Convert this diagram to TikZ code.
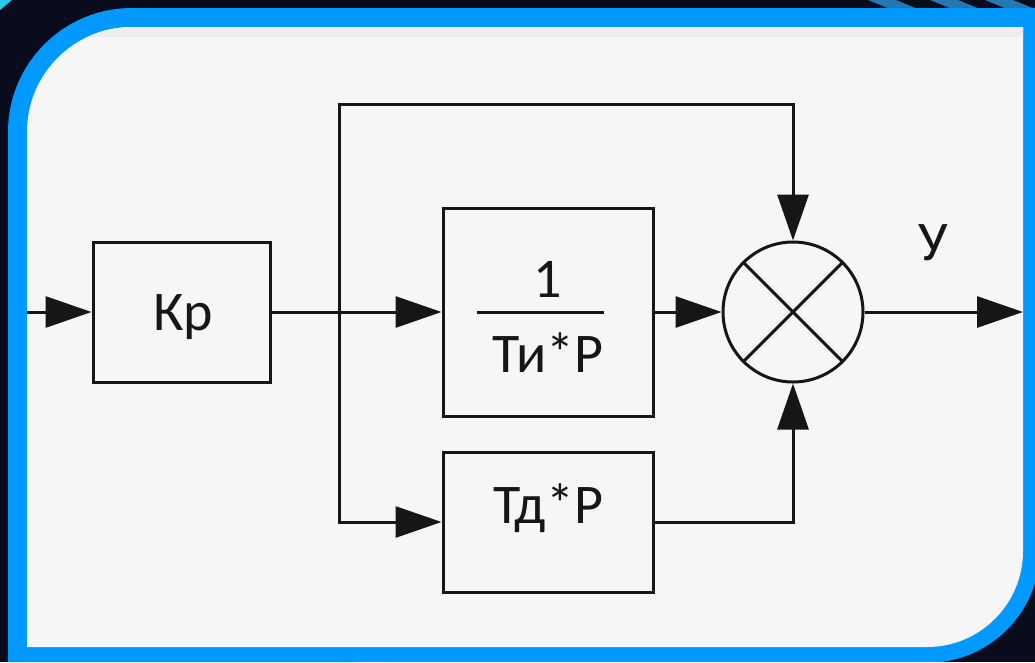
\documentclass[tikz,border=0pt]{standalone}
\usepackage{fontspec}
\setmainfont{Carlito}
\usetikzlibrary{arrows.meta}
\definecolor{framebl}{RGB}{0,153,255}
\definecolor{panel}{RGB}{246,246,246}
\definecolor{panelband}{RGB}{238,238,238}
\definecolor{night}{RGB}{8,12,28}
\definecolor{stripe}{RGB}{38,118,178}
\definecolor{glow}{RGB}{40,200,230}
\definecolor{ink}{RGB}{22,22,22}
\begin{document}
\begin{tikzpicture}[x=1pt,y=-1pt,
  blk/.style={draw=ink,line width=3pt,rectangle,inner sep=0pt},
  sumnode/.style={draw=ink,line width=3pt,circle,inner sep=0pt,minimum size=140pt},
  conn/.style={draw=ink,line width=3pt},
  arr/.style={conn,-{Triangle[length=46pt,width=31pt]}},
  lbl/.style={text=ink,inner sep=0pt,font=\fontsize{56}{60}\selectfont}]
\useasboundingbox (0,0) rectangle (1035,662);
% dark background
\fill[night] (0,0) rectangle (1035,662);
\begin{scope}
  \clip (0,0) rectangle (1035,9);
  \foreach \s in {868,930,985} {
    \fill[stripe] (\s,0) -- (\s+28,0) -- (\s+50,9) -- (\s+22,9) -- cycle;
  }
\end{scope}
\fill[glow] (0,0) -- (12,0) -- (0,10) -- cycle;
% blue frame
\fill[framebl] (8,662) -- (8,132) arc[start angle=180,end angle=270,radius=124]
  -- (1035,8) -- (1035,583) arc[start angle=17,end angle=82.4,radius=113] -- cycle;
% panel
\fill[panel] (27,647) -- (27,132) arc[start angle=180,end angle=270,radius=105]
  -- (1023,27) -- (1023,551) arc[start angle=0,end angle=90,radius=96] -- cycle;
\begin{scope}
  \clip (27,647) -- (27,132) arc[start angle=180,end angle=270,radius=105]
  -- (1023,27) -- (1023,551) arc[start angle=0,end angle=90,radius=96] -- cycle;
  \fill[panelband] (0,27) rectangle (1035,37);
\end{scope}

% blocks
\node[blk,minimum width=177pt,minimum height=140pt] (kp) at (181.5,312) {};
\node[blk,minimum width=210pt,minimum height=208pt] (ti) at (548,312) {};
\node[blk,minimum width=210pt,minimum height=140pt] (td) at (548,522) {};
\node[sumnode] (sum) at (793,312) {};
\draw[conn] (sum.center) +(-49.5,-49.5) -- +(49.5,49.5);
\draw[conn] (sum.center) +(-49.5,49.5) -- +(49.5,-49.5);

% texts
\node[lbl,anchor=base] (kpt) at (183,330) {Кр};
\node[lbl,anchor=base] (one) at (548,297) {1};
\draw[conn] (477,312) -- (604,312);
\node[lbl,anchor=base] (tit) at (548,372) {Ти*Р};
\node[lbl,anchor=base] (tdt) at (548,523) {Тд*Р};
\node[lbl,anchor=base] (yt) at (933,260) {У};

% connectors
\coordinate (in) at (27,312);
\coordinate (br) at (339,312);
\coordinate (tl) at (339,104);
\coordinate (out) at (1023,312);
\draw[arr] (in) -- (kp.west);
\draw[conn] (kp.east) -- (br);
\draw[arr] (br) -- (ti.west);
\draw[arr] (br) -- (tl) -| (sum.north);
\draw[arr] (br) |- (td.west);
\draw[arr] (ti.east) -- (sum.west);
\draw[arr] (td.east) -| (sum.south);
\draw[arr] (sum.east) -- (out);
\end{tikzpicture}
\end{document}
